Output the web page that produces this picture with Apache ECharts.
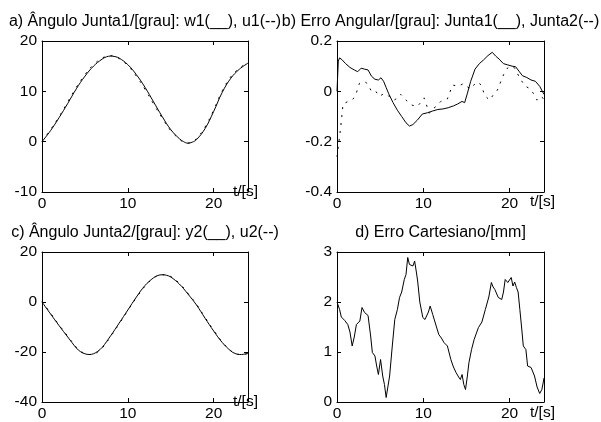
<!DOCTYPE html>
<html><head><meta charset="utf-8">
<script src="https://cdn.jsdelivr.net/npm/echarts@6/dist/echarts.min.js"></script>
<style>html,body{margin:0;padding:0;background:#fff}#c{width:601px;height:422px}</style>
</head><body><div id="c"></div>
<script>
// ---- data ----
const titles = [
  'a) Ângulo Junta1/[grau]: w1(__), u1(--)',
  'b) Erro Angular/[grau]: Junta1(__), Junta2(--)',
  'c) Ângulo Junta2/[grau]: y2(__), u2(--)',
  'd) Erro Cartesiano/[mm]'
];
const xName = 't/[s]';
const tA = [0,1,2,3,4,5,6,7,7.5,8,8.5,9,10,11,12,13,14,15,16,16.5,17,17.5,18,19,20,21,22,23,24];
const w1 = [0,2.2,4.8,7.6,10.5,13.0,15.0,16.4,16.85,17.0,16.9,16.6,15.3,13.3,10.8,7.9,5.0,2.4,0.6,0.0,-0.3,-0.1,0.4,2.6,6.0,9.8,12.6,14.4,15.6];
const u1 = [0.1,2.4,5.0,7.9,10.8,13.3,15.3,16.6,16.95,17.1,16.9,16.5,15.1,13.0,10.4,7.5,4.7,2.2,0.5,-0.1,-0.3,0.0,0.6,2.9,6.3,10.1,12.9,14.6,15.7];
const tC = [0,1,2,3,4,4.5,5,5.5,6,6.5,7,8,9,10,11,12,13,13.5,14,14.5,15,16,17,18,19,20,21,22,22.5,23,23.5,24];
const y2 = [0,-4.8,-9.5,-14.0,-18.4,-19.9,-20.7,-21.0,-20.7,-19.7,-18.2,-13.5,-8.4,-3.2,2.0,6.6,9.7,10.6,10.9,10.7,10.0,7.2,3.2,-1.2,-6.5,-11.6,-16.2,-19.6,-20.6,-21.0,-20.9,-20.4];
const u2 = [0.2,-4.5,-9.2,-13.7,-18.1,-19.7,-20.6,-21.0,-20.9,-20.0,-18.5,-13.8,-8.7,-3.4,1.7,6.3,9.6,10.5,10.9,10.8,10.2,7.5,3.5,-0.9,-6.2,-11.3,-16.0,-19.5,-20.5,-21.0,-21.0,-20.6];
const tB1 = [0,0.15,0.3,0.6,1.0,1.5,2.0,2.4,2.8,3.2,3.6,4.0,4.4,4.8,5.1,5.4,5.7,6.0,6.5,7.0,7.5,8.0,8.4,8.8,9.3,9.9,10.5,11.1,11.7,12.3,12.9,13.5,14.0,14.5,14.8,15.1,15.5,16.0,16.5,17.0,17.5,18.0,18.4,18.8,19.3,19.8,20.3,20.7,21.1,21.5,22.0,22.5,23.0,23.5,24];
const eJ1 = [0.0,0.12,0.133,0.125,0.11,0.095,0.085,0.078,0.092,0.088,0.085,0.06,0.048,0.045,0.054,0.04,0.015,-0.01,-0.045,-0.075,-0.1,-0.125,-0.138,-0.132,-0.115,-0.09,-0.085,-0.078,-0.072,-0.07,-0.065,-0.058,-0.05,-0.04,-0.045,-0.01,0.04,0.088,0.11,0.125,0.142,0.155,0.14,0.128,0.11,0.105,0.1,0.098,0.08,0.062,0.055,0.045,0.04,0.02,-0.012];
const tB2 = [0,0.15,0.3,0.5,0.7,1.0,1.3,1.7,2.1,2.6,3.0,3.3,3.7,4.0,4.5,4.9,5.4,5.9,6.3,6.7,7.0,7.4,8.0,8.7,9.3,9.7,10.1,10.7,11.1,11.5,12.0,12.4,12.8,13.4,14.1,14.6,15.0,15.5,16.0,16.4,16.8,17.1,17.7,18.2,18.6,19.0,19.3,19.7,20.1,20.6,21.2,21.8,22.4,22.8,23.2,23.6,24];
const eJ2 = [-0.26,-0.22,-0.18,-0.12,-0.05,-0.045,-0.04,-0.035,-0.022,0.032,0.035,0.038,0.02,-0.001,0.0,-0.02,-0.01,-0.015,-0.03,-0.035,-0.02,-0.012,-0.035,-0.055,-0.06,-0.045,-0.026,-0.087,-0.07,-0.06,-0.041,-0.035,-0.03,0.025,0.02,0.03,0.02,0.01,0.03,0.037,0.02,-0.016,-0.035,-0.01,0.005,0.04,0.065,0.09,0.1,0.093,0.052,0.021,0.01,-0.01,-0.035,-0.02,-0.03];
const tD = [0,0.3,0.5,0.9,1.25,1.5,1.76,2.0,2.25,2.65,2.9,3.2,3.6,3.9,4.1,4.4,4.6,4.8,5.05,5.3,5.5,5.7,6.1,6.4,6.7,7.0,7.25,7.5,7.8,8.0,8.2,8.4,8.6,8.8,9.0,9.2,9.35,9.6,9.95,10.2,10.4,10.6,10.8,11.1,11.5,11.8,12.1,12.4,12.8,13.2,13.5,13.8,14.1,14.3,14.5,14.7,14.9,15.1,15.3,15.6,15.9,16.4,16.8,17.2,17.6,17.9,18.1,18.3,18.7,19.1,19.3,19.5,19.8,20.0,20.2,20.4,20.6,20.8,21.0,21.2,21.4,21.6,21.9,22.1,22.5,22.9,23.2,23.5,23.75,23.9,24];
const eCart = [2.0,1.85,1.7,1.63,1.55,1.4,1.12,1.3,1.55,1.62,1.89,1.79,1.73,1.32,0.99,0.92,0.72,0.55,0.85,0.52,0.35,0.09,0.52,1.1,1.65,1.85,2.09,2.2,2.45,2.55,2.89,2.75,2.79,2.72,2.82,2.6,2.42,2.0,1.69,1.65,1.66,1.8,1.92,1.75,1.52,1.35,1.28,1.19,1.12,0.85,0.7,0.59,0.5,0.45,0.55,0.35,0.25,0.5,0.79,1.05,1.25,1.49,1.6,1.85,2.1,2.39,2.3,2.25,2.09,2.05,2.2,2.45,2.39,2.4,2.49,2.32,2.4,2.29,2.2,1.85,1.5,1.12,1.05,0.72,0.69,0.52,0.3,0.17,0.25,0.38,0.48];
const yRanges = [[-10,20,10],[-0.4,0.2,0.2],[-40,20,20],[0,3,1]];

// ---- layout/style ----
const FONT = 'Liberation Sans, Arial, sans-serif';
const grids = [
  {left:42, top:41, width:206, height:151},
  {left:337, top:41, width:207, height:151},
  {left:42, top:252, width:206, height:151},
  {left:337, top:252, width:207, height:151}
];
const titleCx = [145, 440.5, 145, 440.5];
const titleTop = [14, 14, 225, 225];
const nameOnAxis = [true, false, true, false];
const nameBelowPos = [null, {left:530, top:194}, null, {left:530, top:405}];
const pair = (xs, ys) => xs.map((x, i) => [x, ys[i]]);

const xAxis = [], yAxis = [], graphic = [];
grids.forEach((g, i) => {
  const common = {type:'value', gridIndex:i, min:0, max:24, interval:10, splitLine:{show:false},
    axisLine:{show:true, onZero:false, lineStyle:{color:'#000', width:1}},
    axisTick:{show:true, inside:true, length:4, lineStyle:{color:'#000', width:1}}};
  const xb = Object.assign({}, common, {position:'bottom',
    axisLabel:{color:'#000', fontSize:15.5, fontFamily:FONT, margin:4, showMaxLabel:false,
      formatter: v => (v % 10 === 0 ? String(v) : '')}});
  if (nameOnAxis[i]) {
    Object.assign(xb, {name:xName, nameLocation:'end', nameGap:-15,
      nameTextStyle:{color:'#000', fontSize:15.5, fontFamily:FONT, align:'left'}});
  } else {
    graphic.push({type:'text', left:nameBelowPos[i].left, top:nameBelowPos[i].top, silent:true,
      style:{text:xName, fill:'#000', font:'15.5px ' + FONT}});
  }
  xAxis.push(xb);
  xAxis.push(Object.assign({}, common, {position:'top', axisLabel:{show:false}}));
  const r = yRanges[i];
  const yc = {type:'value', gridIndex:i, min:r[0], max:r[1], interval:r[2], splitLine:{show:false},
    axisLine:{show:true, onZero:false, lineStyle:{color:'#000', width:1}},
    axisTick:{show:true, inside:true, length:4, lineStyle:{color:'#000', width:1}}};
  yAxis.push(Object.assign({}, yc, {position:'left',
    axisLabel:{color:'#000', fontSize:15.5, fontFamily:FONT, margin:5}}));
  yAxis.push(Object.assign({}, yc, {position:'right', axisLabel:{show:false}}));
});

const solid = {color:'#000', width:1, type:'solid'};
const dashed = {color:'#000', width:1, type:[2,6]};
const mk = (i, data, ls, smooth) => ({type:'line', xAxisIndex:2*i, yAxisIndex:2*i, data:data,
  showSymbol:false, symbol:'none', smooth:smooth, lineStyle:ls, itemStyle:{color:'#000'}, silent:true, z: ls===solid?3:2});

const option = {
  animation:false,
  backgroundColor:'#fff',
  title: titles.map((t, i) => ({text:t, left:titleCx[i], top:titleTop[i], textAlign:'center', padding:0,
    textStyle:{fontSize:16, fontWeight:'normal', color:'#000', fontFamily:FONT}})),
  grid: grids,
  xAxis: xAxis,
  yAxis: yAxis,
  graphic: graphic,
  series: [
    mk(0, pair(tA, w1), solid, 0.4),
    mk(0, pair(tA, u1), dashed, 0.4),
    mk(1, pair(tB1, eJ1), solid, false),
    mk(1, pair(tB2, eJ2), dashed, false),
    mk(2, pair(tC, y2), solid, 0.4),
    mk(2, pair(tC, u2), dashed, 0.4),
    mk(3, pair(tD, eCart), solid, false)
  ]
};
const chart = echarts.init(document.getElementById('c'), null, {renderer:'canvas'});
chart.setOption(option);
</script></body></html>
